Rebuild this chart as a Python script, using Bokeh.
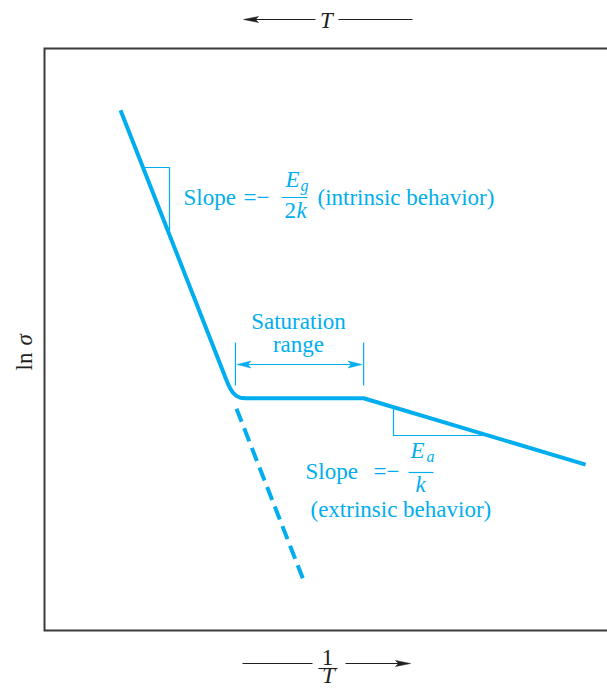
import math
from bokeh.plotting import figure
from bokeh.models import Range1d
from bokeh.core.properties import value
from bokeh.embed import file_html
from bokeh.resources import INLINE

# ---- data (arbitrary units: x = 1/T, y = ln sigma) ----
curve_x = [1.37, 3.14, 3.27, 3.31, 3.35, 3.40, 3.46, 3.53, 3.62, 5.75, 9.75]
curve_y = [8.94, 4.64, 4.32, 4.23, 4.15, 4.08, 4.03, 4.00, 3.99, 3.99, 2.85]
dash_x = [3.46, 4.69]
dash_y = [3.81, 0.81]
sat_range = [3.44, 5.75]

# ---- layout ----
W, H = 607, 690
SX, SY = 55.5, 58.2          # pixels per unit
LEFT_PX, BOTTOM_PX = 44, 60  # plot box offsets inside canvas
BASE_FIX = 8                 # renderer baseline correction, px

def X(px):
    return (px - LEFT_PX) / SX

def Y(py):
    return (H - BOTTOM_PX - py) / SY

CYAN = "#00AEEF"
INK = "#231F20"
FRAME = "#3A3A3A"
FONT = value("Liberation Serif")

p = figure(width=W, height=H, output_backend="svg", toolbar_location=None,
           x_axis_type=None, y_axis_type=None, title=None,
           x_range=Range1d(-LEFT_PX / SX, (W - LEFT_PX) / SX),
           y_range=Range1d(-BOTTOM_PX / SY, (H - BOTTOM_PX) / SY))
p.min_border = 0
p.outline_line_color = None
p.background_fill_color = "white"
p.border_fill_color = "white"

# plot box (left, top, bottom edges; right edge lies beyond the canvas)
p.line([11, 0, 0, 11], [10, 10, 0, 0], line_width=2, line_color=FRAME, line_join="miter")

def txt(x, y, s, size=23, color=CYAN, style="normal", align="left", angle=0.0):
    fx = -math.sin(angle) * BASE_FIX * size / 23 / SX
    fy = math.cos(angle) * BASE_FIX * size / 23 / SY
    p.text(x=[x + fx], y=[y + fy], text=[s], text_font=FONT, text_font_size=f"{size}px",
           text_color=color, text_font_style=style, text_align=align,
           text_baseline="alphabetic", angle=angle)

def head(tx, ty, direction, color, length=14, width=6, indent=3):
    d = 1 if direction == "left" else -1
    xs = [tx, tx + d * length / SX, tx + d * (length - indent) / SX, tx + d * length / SX]
    ys = [ty, ty + width / 2 / SY, ty, ty - width / 2 / SY]
    p.patch(xs, ys, fill_color=color, line_color=color, line_width=0.5)

# ---- main curve ----
p.line(curve_x, curve_y, line_width=4, line_color=CYAN, line_join="round", line_cap="butt")
p.line(dash_x, dash_y, line_width=4, line_color=CYAN, line_dash="14 7", line_cap="butt")

# slope triangle, intrinsic
s1 = (curve_y[1] - curve_y[0]) / (curve_x[1] - curve_x[0])
t1y, t1x = Y(167), X(169)
p.line([curve_x[0] + (t1y - curve_y[0]) / s1, t1x, t1x],
       [t1y, t1y, curve_y[0] + s1 * (t1x - curve_x[0])],
       line_width=1.2, line_color=CYAN)

# slope triangle, extrinsic
s2 = (curve_y[-1] - curve_y[-2]) / (curve_x[-1] - curve_x[-2])
t2x, t2y = X(393), Y(435)
p.line([t2x, t2x, curve_x[-2] + (t2y - curve_y[-2]) / s2],
       [curve_y[-2] + s2 * (t2x - curve_x[-2]), t2y, t2y],
       line_width=1.2, line_color=CYAN)

# saturation range bracket
for sx in sat_range:
    p.line([sx, sx], [Y(342), Y(385)], line_width=1.2, line_color=CYAN)
ay = Y(364)
p.line([sat_range[0] + 4 / SX, sat_range[1] - 4 / SX], [ay, ay], line_width=1.2, line_color=CYAN)
head(sat_range[0] + 1.5 / SX, ay, "left", CYAN, length=14, width=7, indent=3)
head(sat_range[1] - 1.5 / SX, ay, "right", CYAN, length=14, width=7, indent=3)
txt(X(298), Y(329), "Saturation", align="center")
txt(X(298), Y(352), "range", align="center")

# intrinsic slope label
txt(X(183), Y(205), "Slope")
txt(X(243), Y(205), "=\u2212")
txt(X(285), Y(187), "E", style="italic")
txt(X(300), Y(191), "g", size=16, style="italic")
p.line([X(281), X(307)], [Y(197), Y(197)], line_width=1.2, line_color=CYAN)
txt(X(284), Y(218), "2")
txt(X(296), Y(218), "k", style="italic")
txt(X(317), Y(205), "(intrinsic behavior)")

# extrinsic slope label
txt(X(305), Y(479), "Slope")
txt(X(373), Y(479), "=\u2212")
txt(X(410), Y(458), "E", style="italic")
txt(X(426), Y(462), "a", size=16, style="italic")
p.line([X(408), X(433)], [Y(472), Y(472)], line_width=1.2, line_color=CYAN)
txt(X(415), Y(492), "k", style="italic")
txt(X(310), Y(517), "(extrinsic behavior)")

# ---- axis annotations ----
# top: <---- T ----
ty = Y(19)
p.line([X(247), X(315)], [ty, ty], line_width=1.1, line_color=INK)
head(X(243), ty, "left", INK, length=15, width=6, indent=3)
p.line([X(338), X(412)], [ty, ty], line_width=1.1, line_color=INK)
txt(X(326), Y(28), "T", color=INK, style="italic", align="center")

# bottom: ---- 1/T ---->
by = Y(663)
p.line([X(242), X(312)], [by, by], line_width=1.1, line_color=INK)
p.line([X(345), X(406)], [by, by], line_width=1.1, line_color=INK)
head(X(410), by, "right", INK, length=15, width=6, indent=3)
txt(X(327), Y(665), "1", color=INK, align="center")
p.line([X(318), X(337)], [Y(668), Y(668)], line_width=1.1, line_color=INK)
txt(X(328), Y(683), "T", color=INK, style="italic", align="center")

# left: ln sigma
txt(X(32), Y(370), "ln", color=INK, angle=math.pi / 2)
txt(X(32), Y(345), "\u03c3", color=INK, style="italic", angle=math.pi / 2)

open("out.html", "w").write(file_html(p, INLINE))
